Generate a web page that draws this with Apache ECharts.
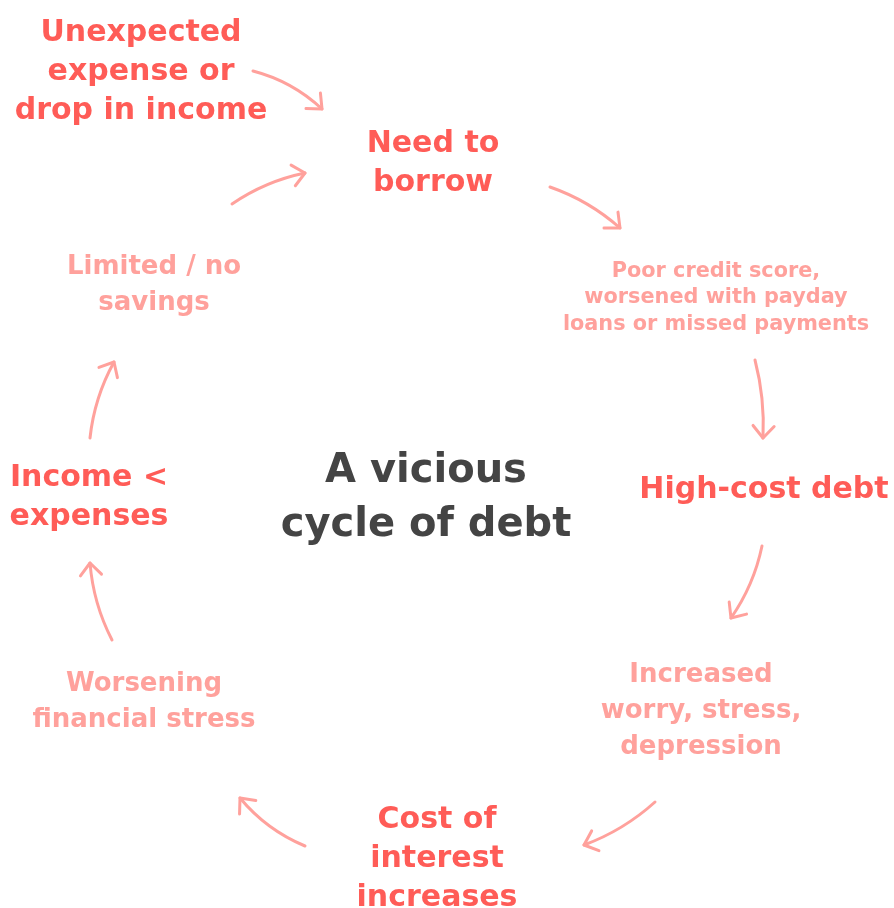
<!DOCTYPE html>
<html>
<head>
<meta charset="utf-8">
<script src="https://cdn.jsdelivr.net/npm/echarts@6/dist/echarts.min.js"></script>
<style>
  html, body { margin: 0; padding: 0; background: #fff; }
  #main { width: 894px; height: 908px; }
</style>
</head>
<body>
<div id="main"></div>
<script>
// 节点文字 (text of each step in the cycle)
const nodeLabels = [
  'Unexpected\nexpense or\ndrop in income',
  'Need to\nborrow',
  'Poor credit score,\nworsened with payday\nloans or missed payments',
  'High-cost debt',
  'Increased\nworry, stress,\ndepression',
  'Cost of\ninterest\nincreases',
  'Worsening\nfinancial stress',
  'Income <\nexpenses',
  'Limited / no\nsavings',
  'A vicious\ncycle of debt'
];
// 节点位置 (diagram units, 0..894 x 0..908)
const nodeX = [141, 433, 716, 764, 701, 437, 144, 89, 154, 426];
const nodeY = [72, 164, 298, 490, 711, 859, 702, 498, 285, 499];
// 节点类型: key / minor / small / center
const nodeKind = ['key', 'key', 'small', 'key', 'minor', 'key', 'minor', 'key', 'minor', 'center'];

// 箭头: 起点, 终点, 弯曲程度
const arrowFrom = [[253, 71], [232, 204], [550, 187], [755, 360], [762, 546], [655, 802], [305, 846], [112, 640], [90, 438]];
const arrowTo   = [[322, 109], [305, 173], [620, 228], [763, 438], [731, 618], [584, 845], [240, 798], [90, 563], [114, 362]];
const arrowBend = [5, 4, 4, 3, 4, 4, 5, 4, 4];

const CENTER = [430, 480];
const RED = '#ff5c57';
const PINK = '#ffa19c';
const FONT = '"DejaVu Sans", sans-serif';

const kindStyle = {
  key:    { color: RED,  fontSize: 30, lineHeight: 39 },
  minor:  { color: PINK, fontSize: 26, lineHeight: 36 },
  small:  { color: PINK, fontSize: 20.8, lineHeight: 26.5 },
  center: { color: '#444444', fontSize: 40, lineHeight: 54 }
};

const textData = nodeLabels.map((t, i) => {
  const s = kindStyle[nodeKind[i]];
  return {
    value: [nodeX[i], nodeY[i]],
    label: {
      show: true,
      formatter: t,
      position: 'inside',
      align: 'center',
      verticalAlign: 'middle',
      fontFamily: FONT,
      color: s.color,
      fontSize: s.fontSize,
      fontWeight: 'bold',
      lineHeight: s.lineHeight
    }
  };
});

const arrowData = arrowFrom.map((p, i) => [p[0], p[1], arrowTo[i][0], arrowTo[i][1], arrowBend[i]]);

function renderArrow(params, api) {
  const a = api.coord([api.value(0), api.value(1)]);
  const b = api.coord([api.value(2), api.value(3)]);
  const bend = api.value(4);
  const c = api.coord(CENTER);
  const mx = (a[0] + b[0]) / 2, my = (a[1] + b[1]) / 2;
  const dx = b[0] - a[0], dy = b[1] - a[1];
  const len = Math.sqrt(dx * dx + dy * dy);
  let nx = -dy / len, ny = dx / len;
  // 往外弯 (bow away from the middle of the cycle)
  if (nx * (mx - c[0]) + ny * (my - c[1]) < 0) { nx = -nx; ny = -ny; }
  const cp = [mx + nx * bend * 2, my + ny * bend * 2];
  // 箭头方向取曲线末端切线
  const tx = b[0] - cp[0], ty = b[1] - cp[1];
  const ang = Math.atan2(ty, tx);
  const arm = 16, spread = 0.72;
  const h1 = [b[0] - arm * Math.cos(ang - spread), b[1] - arm * Math.sin(ang - spread)];
  const h2 = [b[0] - arm * Math.cos(ang + spread), b[1] - arm * Math.sin(ang + spread)];
  const style = { stroke: PINK, lineWidth: 3, fill: null, lineCap: 'round', lineJoin: 'round' };
  return {
    type: 'group',
    children: [
      {
        type: 'bezierCurve',
        shape: { x1: a[0], y1: a[1], x2: b[0], y2: b[1], cpx1: cp[0], cpy1: cp[1] },
        style: style
      },
      {
        type: 'polyline',
        shape: { points: [h1, b, h2] },
        style: style
      }
    ]
  };
}

const myChart = echarts.init(document.getElementById('main'));
myChart.setOption({
  backgroundColor: '#ffffff',
  animation: false,
  grid: { left: 0, right: 0, top: 0, bottom: 0 },
  xAxis: { type: 'value', min: 0, max: 894, show: false },
  yAxis: { type: 'value', min: 0, max: 908, inverse: true, show: false },
  series: [
    {
      type: 'custom',
      renderItem: renderArrow,
      data: arrowData,
      silent: true
    },
    {
      type: 'scatter',
      symbolSize: 0,
      itemStyle: { opacity: 1 },
      data: textData,
      silent: true
    }
  ]
});
</script>
</body>
</html>
